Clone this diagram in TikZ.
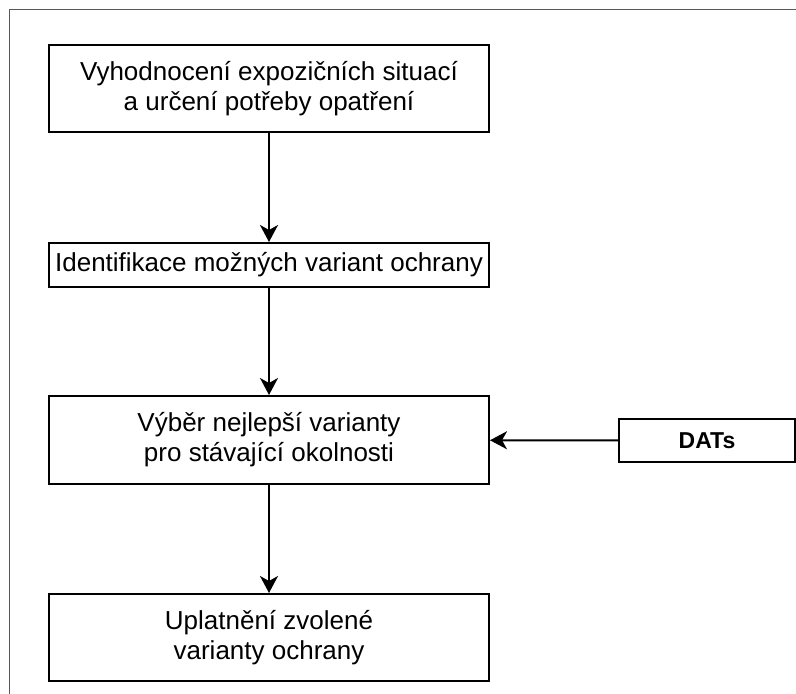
\documentclass[tikz,border=0pt]{standalone}
\usepackage{fontspec}
\setmainfont{Liberation Sans}
\usetikzlibrary{arrows.meta}
\begin{document}
\begin{tikzpicture}[x=1pt,y=-1pt,
  stepbox/.style={draw=black,line width=2pt,minimum width=440pt,align=center,inner sep=0pt,font=\fontsize{26}{30}\selectfont},
  datbox/.style={draw=black,line width=2pt,minimum width=176pt,minimum height=43pt,inner sep=0pt,font=\fontsize{23}{26}\selectfont\bfseries},
  conn/.style={line width=2pt,-{Stealth[length=17pt,width=18pt,inset=5pt]}}]
\useasboundingbox (0,0) rectangle (796,694);
\draw[line width=1.8pt,black!65] (9.5,694) -- (9.5,9.5) -- (796,9.5);
\node[stepbox,minimum height=87pt] (a) at (269,88.5) {Vyhodnocení expozičních situací\\a určení potřeby opatření};
\node[stepbox,minimum height=44pt] (b) at (269,265) {Identifikace možných variant ochrany};
\node[stepbox,minimum height=88pt] (c) at (269,440) {Výběr nejlepší varianty\\pro stávající okolnosti};
\node[stepbox,minimum height=87pt] (d) at (269,637.5) {Uplatnění zvolené\\varianty ochrany};
\node[datbox] (e) at (707,440.5) {DATs};
\draw[conn] (a) -- (b);
\draw[conn] (b) -- (c);
\draw[conn] (c) -- (d);
\draw[conn] (e) -- (c);
\end{tikzpicture}
\end{document}
